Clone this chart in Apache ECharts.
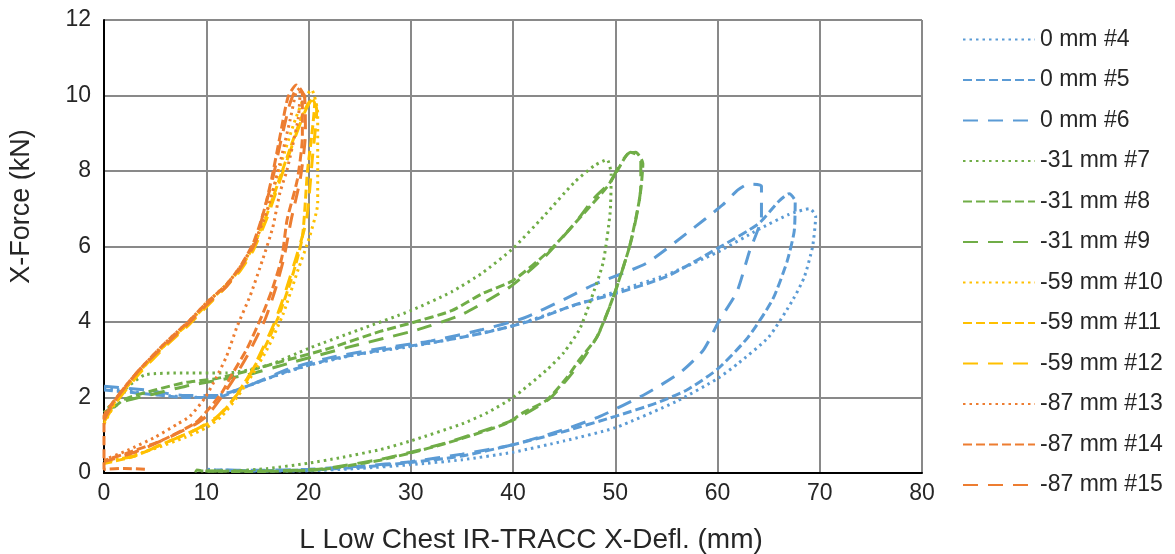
<!DOCTYPE html>
<html>
<head>
<meta charset="utf-8">
<script src="https://cdn.jsdelivr.net/npm/echarts@6/dist/echarts.min.js"></script>
<style>
  html, body { margin: 0; padding: 0; background: #fff; }
  #chart { width: 1175px; height: 554px; }
</style>
</head>
<body>
<div id="chart"></div>
<script>
//--------------------- Data ---------------------------//
// [deflection (mm), force (kN)]
const test4 = [[0,2.25],[3,2.15],[6,2.05],[10,2.0],[13,2.2],[16,2.5],[20,2.85],[25,3.15],[30,3.35],[35,3.6],[40,3.9],[45,4.35],[50,4.8],[55,5.25],[60,5.85],[64,6.45],[67,6.85],[69,7.0],[69.6,6.8],[69.3,6.0],[68.5,5.2],[67.4,4.6],[65,3.6],[62,2.9],[60,2.5],[56,1.9],[50,1.2],[45,0.85],[40,0.55],[35,0.35],[30,0.22],[25,0.12],[20,0.06],[15,0.05],[11,0.08],[10,0.1]];
const test5 = [[0,2.2],[4,2.1],[8,2.0],[11,2.0],[14,2.3],[18,2.7],[22,3.0],[27,3.25],[32,3.45],[37,3.7],[42,4.05],[46,4.45],[50,4.75],[55,5.2],[60,5.95],[64,6.6],[66,7.2],[67,7.4],[67.6,7.2],[67.5,6.4],[66.8,5.6],[65.4,4.6],[63,3.6],[60,2.75],[57,2.2],[54,1.85],[50,1.5],[45,1.1],[40,0.75],[35,0.45],[30,0.28],[25,0.15],[20,0.08],[15,0.06],[11,0.08]];
const test6 = [[0,2.3],[4,2.2],[8,2.05],[11,2.05],[14,2.3],[18,2.75],[22,3.05],[27,3.3],[32,3.5],[37,3.8],[41,4.1],[45,4.6],[48,5.0],[53,5.55],[57,6.35],[60.5,7.1],[62,7.5],[63,7.65],[64.3,7.6],[64.3,6.8],[63.1,5.85],[61.9,4.8],[60.2,4.05],[58.6,3.25],[56.3,2.65],[53,2.1],[48.5,1.5],[45,1.15],[40,0.75],[35,0.5],[30,0.3],[25,0.18],[20,0.1],[15,0.07],[11,0.08]];
const test7 = [[0,1.6],[2,2.2],[4,2.6],[8,2.65],[12,2.65],[16,2.85],[20,3.3],[25,3.8],[30,4.3],[34,4.8],[37,5.3],[40,5.95],[43,6.8],[46,7.7],[48,8.15],[49.2,8.3],[49.6,7.9],[49.5,6.9],[48.8,5.56],[47.5,4.5],[46.5,3.8],[45,3.2],[43.3,2.73],[40,2.0],[37.5,1.6],[35,1.3],[30,0.85],[27,0.62],[23,0.4],[20,0.26],[16,0.12],[12,0.05],[9,0.05],[8.5,0.12]];
const test8 = [[0,1.5],[2,1.95],[5,2.2],[8,2.4],[11,2.5],[14,2.7],[18,3.0],[22,3.3],[27,3.75],[30,3.97],[34,4.3],[37,4.75],[40,5.1],[43.6,5.9],[46,6.6],[49.2,7.58],[50.4,8.1],[51.2,8.45],[52,8.5],[52.7,8.2],[52.4,7.3],[51.4,6.0],[49.8,4.66],[48.2,3.6],[46.5,3.0],[45.3,2.54],[43.3,1.93],[41,1.6],[39.4,1.32],[36,1.0],[33.5,0.79],[30,0.53],[27,0.34],[24,0.2],[20.8,0.08],[15,0.04],[10,0.05],[9,0.08]];
const test9 = [[0,1.6],[2,1.9],[5,2.1],[8,2.3],[11,2.45],[14,2.6],[18,2.9],[24,3.34],[30.6,3.79],[35,4.2],[39.7,4.93],[43,5.7],[46,6.6],[48,7.3],[49.5,7.7],[50.5,8.2],[51.5,8.5],[52.5,8.35],[52.5,7.6],[51.6,6.2],[50,4.8],[48.4,3.7],[46.8,3.0],[45.5,2.55],[43.5,1.95],[40,1.4],[36,1.02],[33.5,0.8],[30,0.55],[27,0.36],[24,0.22],[21,0.1],[15,0.05],[10,0.05]];
const test10 = [[0,1.3],[1,1.8],[2,2.2],[3.5,2.7],[6,3.4],[8.4,4.0],[10,4.5],[12,5.0],[13.3,5.45],[14.6,6.0],[15.9,6.9],[17.2,8.1],[18.5,9.2],[19.5,9.9],[20.3,10.15],[20.9,9.54],[20.9,8.2],[20.9,7.15],[20.1,6.25],[19,5.4],[17.5,4.2],[16,3.3],[14.5,2.6],[13,2.0],[11.5,1.5],[10,1.2],[8,0.95],[5,0.65],[2,0.4],[0,0.3]];
const test11 = [[0,1.4],[1,1.85],[2,2.2],[3.5,2.7],[6,3.4],[8.4,4.0],[10,4.45],[12,5.0],[13.3,5.4],[14.6,6.0],[16,6.9],[17.3,7.9],[18.6,8.9],[19.6,9.6],[20.3,9.9],[20.6,9.8],[20.3,8.9],[19.9,8.0],[19.4,6.25],[18.4,5.2],[17,4.1],[15.5,3.2],[14,2.5],[12.5,1.9],[11,1.45],[9,1.15],[6,0.8],[3,0.45],[0,0.25]];
const test12 = [[0,1.35],[1,1.8],[2,2.15],[3.5,2.65],[6,3.35],[8.4,3.95],[10,4.4],[12,4.95],[13.3,5.35],[14.6,5.9],[16,6.8],[17.4,7.9],[18.7,8.9],[19.7,9.6],[20.5,9.95],[20.8,9.6],[20.4,8.4],[19.8,6.7],[18.8,5.72],[17.5,4.6],[16.5,3.87],[15,3.0],[14,2.46],[12.5,1.9],[11,1.48],[9,1.15],[6,0.8],[3,0.45],[0,0.3]];
const test13 = [[0,1.5],[1.1,1.93],[2.1,2.3],[3.7,2.8],[6,3.45],[8.4,4.05],[10,4.5],[12,5.0],[13.3,5.45],[14.6,6.05],[15.9,6.9],[17.2,8.2],[18.2,9.35],[18.8,10.1],[19.2,10.2],[19.0,9.4],[17.9,8.03],[17.2,7.42],[16.5,6.5],[15.5,5.64],[14.3,4.7],[13,3.87],[12,3.1],[11,2.54],[9.9,2.0],[8.4,1.5],[7.2,1.3],[5,0.95],[2.3,0.6],[0,0.35]];
const test14 = [[4,0.1],[2,0.12],[0,0.1],[0,0.5],[0,1.0],[0,1.5],[1.1,1.95],[2.1,2.3],[3.5,2.75],[6,3.45],[8.4,4.05],[10,4.5],[12,5.0],[13.3,5.46],[14.6,6.09],[15.6,6.9],[16.4,7.8],[17.2,8.9],[18,9.96],[18.8,10.28],[19.4,10.07],[19.4,8.9],[18.9,7.76],[17.9,6.7],[17.4,5.72],[16.5,4.9],[15.5,4.2],[14,3.3],[12.5,2.6],[11.5,2.12],[9.9,1.59],[8.9,1.32],[5.7,0.87],[2.3,0.53],[0.1,0.34]];
const test15 = [[0,1.4],[1,1.9],[2,2.25],[3.5,2.75],[6,3.4],[8.4,4.0],[10,4.45],[12,4.95],[13.5,5.5],[14.8,6.1],[15.5,6.8],[16.5,7.8],[17.3,8.8],[18.2,9.8],[18.9,10.2],[19.6,10.0],[19.7,9.0],[19.2,7.8],[18.3,6.7],[17.6,5.7],[16.8,4.9],[15.8,4.1],[14.2,3.2],[12.7,2.5],[11.6,2.05],[10.2,1.55],[9,1.3],[6,0.9],[3,0.55],[0,0.3]];

const seriesNames = ['0 mm #4', '0 mm #5', '0 mm #6', '-31 mm #7', '-31 mm #8', '-31 mm #9',
  '-59 mm #10', '-59 mm #11', '-59 mm #12', '-87 mm #13', '-87 mm #14', '-87 mm #15'];
const seriesData = [test4, test5, test6, test7, test8, test9, test10, test11, test12, test13, test14, test15];
const xTicks = [0, 10, 20, 30, 40, 50, 60, 70, 80];
const yTicks = [0, 2, 4, 6, 8, 10, 12];

//--------------------- Styles ---------------------------//
const colors = ['#5B9BD5', '#70AD47', '#FFC000', '#ED7D31'];
const dashes = [[2.5, 4], [9, 4], [15, 10]]; // dotted, dashed, long dash
const font = "'Liberation Sans', Arial, sans-serif";

//--------------------- Main ---------------------------//
const chart = echarts.init(document.getElementById('chart'), null, { renderer: 'canvas' });

const series = seriesNames.map((name, i) => ({
  name: name,
  type: 'line',
  data: seriesData[i],
  showSymbol: false,
  symbol: 'none',
  smooth: 0.2,
  animation: false,
  lineStyle: {
    color: colors[Math.floor(i / 3)],
    width: 3,
    type: dashes[i % 3]
  },
  itemStyle: { color: colors[Math.floor(i / 3)] }
}));

const option = {
  backgroundColor: '#fff',
  animation: false,
  grid: { left: 104, top: 20, right: 253, bottom: 81, containLabel: false, outerBoundsMode: 'none' },
  xAxis: {
    type: 'value',
    min: xTicks[0],
    max: xTicks[xTicks.length - 1],
    interval: 10,
    name: 'L Low Chest IR-TRACC X-Defl. (mm)',
    nameLocation: 'middle',
    nameGap: 53,
    nameTextStyle: { fontFamily: font, fontSize: 28, color: '#262626', padding: [0, 0, 0, 36] },
    axisLine: { show: true, onZero: false, lineStyle: { color: '#000', width: 2 } },
    axisTick: { show: false },
    axisLabel: { fontFamily: font, fontSize: 23, color: '#262626', margin: 9 },
    splitLine: { show: true, lineStyle: { color: '#898989', width: 2 } }
  },
  yAxis: {
    type: 'value',
    min: yTicks[0],
    max: yTicks[yTicks.length - 1],
    interval: 2,
    name: 'X-Force (kN)',
    nameLocation: 'middle',
    nameGap: 69,
    nameRotate: 90,
    nameTextStyle: { fontFamily: font, fontSize: 27, color: '#262626', padding: [0, 0, 0, 80] },
    axisLine: { show: true, onZero: false, lineStyle: { color: '#000', width: 2 } },
    axisTick: { show: false },
    axisLabel: { fontFamily: font, fontSize: 23, color: '#262626', margin: 13 },
    splitLine: { show: true, lineStyle: { color: '#898989', width: 2 } }
  },
  legend: {
    orient: 'vertical',
    left: 962,
    top: 28,
    padding: 0,
    itemWidth: 72,
    itemHeight: 14,
    itemGap: 17.5,
    itemStyle: { opacity: 0 },
    textStyle: { fontFamily: font, fontSize: 23, color: '#262626' },
    data: seriesNames
  },
  series: series
};

chart.setOption(option);
</script>
</body>
</html>
